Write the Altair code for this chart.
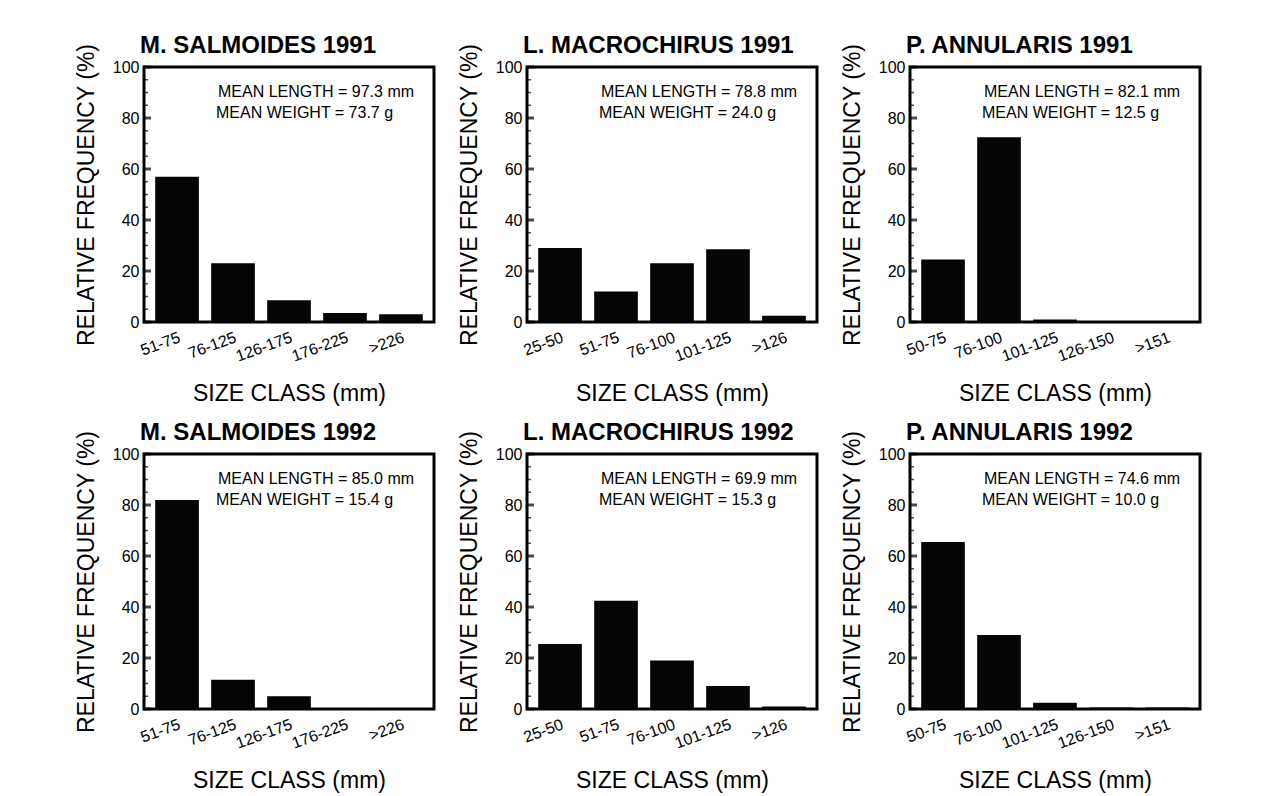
import altair as alt
import pandas as pd

FONT = "Liberation Sans"

titles = ["M. SALMOIDES 1991", "L. MACROCHIRUS 1991", "P. ANNULARIS 1991",
          "M. SALMOIDES 1992", "L. MACROCHIRUS 1992", "P. ANNULARIS 1992"]

classes_ms = ["51-75", "76-125", "126-175", "176-225", ">226"]
classes_lm = ["25-50", "51-75", "76-100", "101-125", ">126"]
classes_pa = ["50-75", "76-100", "101-125", "126-150", ">151"]

freq_ms_1991 = [57, 23, 8.5, 3.5, 3]
freq_lm_1991 = [29, 12, 23, 28.5, 2.5]
freq_pa_1991 = [24.5, 72.5, 1, 0.4, 0.4]
freq_ms_1992 = [82, 11.5, 5, 0.4, 0.4]
freq_lm_1992 = [25.5, 42.5, 19, 9, 1]
freq_pa_1992 = [65.5, 29, 2.5, 0.6, 0.6]

mean_length = [97.3, 78.8, 82.1, 85.0, 69.9, 74.6]
mean_weight = [73.7, 24.0, 12.5, 15.4, 15.3, 10.0]

y_major = [0, 20, 40, 60, 80, 100]
y_minor = [5, 10, 15, 25, 30, 35, 45, 50, 55, 65, 70, 75, 85, 90, 95]

panel_classes = [classes_ms, classes_lm, classes_pa, classes_ms, classes_lm, classes_pa]
panel_freqs = [freq_ms_1991, freq_lm_1991, freq_pa_1991, freq_ms_1992, freq_lm_1992, freq_pa_1992]

yscale = alt.Scale(domain=[0, 100], nice=False)
yaxis = alt.Axis(title="RELATIVE FREQUENCY (%)", values=y_major, ticks=False,
                 domain=False, grid=False, labelPadding=5, titlePadding=14)


def panel(i):
    classes = panel_classes[i]
    df = pd.DataFrame({"cls": classes, "freq": panel_freqs[i]})
    bars = alt.Chart(df).mark_bar(color="#050505").encode(
        x=alt.X("cls:N", sort=classes,
                scale=alt.Scale(paddingInner=0.22, paddingOuter=0.2),
                axis=alt.Axis(title="SIZE CLASS (mm)", labelAngle=-20, labelAlign="right",
                              labelBaseline="top", ticks=False, domain=False,
                              labelPadding=7, titlePadding=18)),
        y=alt.Y("freq:Q", scale=yscale, axis=yaxis),
    )
    tmaj = alt.Chart(pd.DataFrame({"freq": y_major})).mark_tick(
        color="black", size=8, thickness=3).encode(
        y=alt.Y("freq:Q", scale=yscale, axis=yaxis), x=alt.value(3))
    tmin = alt.Chart(pd.DataFrame({"freq": y_minor})).mark_tick(
        color="black", size=4, thickness=1.5).encode(
        y=alt.Y("freq:Q", scale=yscale, axis=yaxis), x=alt.value(2))
    t1 = alt.Chart(pd.DataFrame({"t": [f"MEAN LENGTH = {mean_length[i]:.1f} mm"]})).mark_text(
        align="left", baseline="middle", font=FONT, fontSize=16, color="black").encode(
        text="t:N", x=alt.value(74), y=alt.value(25))
    t2 = alt.Chart(pd.DataFrame({"t": [f"MEAN WEIGHT = {mean_weight[i]:.1f} g"]})).mark_text(
        align="left", baseline="middle", font=FONT, fontSize=16, color="black").encode(
        text="t:N", x=alt.value(72), y=alt.value(46))
    return alt.layer(bars, tmaj, tmin, t1, t2).properties(
        width=290, height=255,
        title=alt.TitleParams(titles[i], anchor="start", frame="group", font=FONT,
                              fontSize=24, fontWeight="bold", color="black",
                              offset=-15, dx=-4),
    )


row1 = alt.hconcat(panel(0), panel(1), panel(2), spacing=20)
row2 = alt.hconcat(panel(3), panel(4), panel(5), spacing=20)
chart = alt.vconcat(row1, row2, spacing=12).properties(
    padding={"left": 65, "top": 24, "right": 5, "bottom": 5},
    background="white",
).configure_axis(
    labelFont=FONT, titleFont=FONT, labelFontSize=16, titleFontSize=23,
    titleFontWeight="normal", labelColor="black", titleColor="black",
).configure_view(stroke="black", strokeWidth=3)

chart.save("out.html", embed_options={"renderer": "svg", "actions": False})
